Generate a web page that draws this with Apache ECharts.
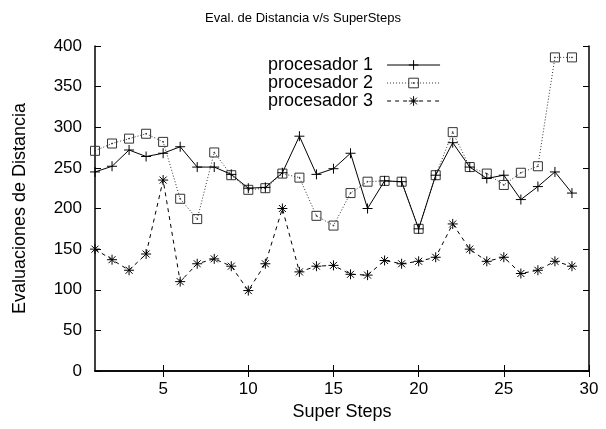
<!DOCTYPE html>
<html>
<head>
<meta charset="utf-8">
<script src="https://cdn.jsdelivr.net/npm/echarts@6/dist/echarts.min.js"></script>
<style>
  html, body { margin: 0; padding: 0; background: #fff; }
  #chart { width: 606px; height: 429px; }
</style>
</head>
<body>
<div id="chart"></div>
<script>
// datos
var steps = [1,2,3,4,5,6,7,8,9,10,11,12,13,14,15,16,17,18,19,20,21,22,23,24,25,26,27,28,29];
var proc1 = [245,252,272,264,268,276,251,251,242,225,226,244,289,242,249,268,200,234,233,175,241,281,251,237,241,211,227,245,219];
var proc2 = [271,280,286,292,282,212,187,269,241,223,225,243,238,191,179,219,233,234,233,175,241,294,251,243,229,244,252,386,386];
var proc3 = [150,137,124,144,235,110,132,138,129,99,132,200,122,129,130,119,118,136,132,135,140,181,150,135,140,120,124,135,129];
var xTicks = [5,10,15,20,25,30];

var plusPath = 'path://M0,5L10,5M5,0L5,10';
var starPath = 'path://M0,5L10,5M5,0L5,10M1.5,1.5L8.5,8.5M1.5,8.5L8.5,1.5';
var boxPath = 'path://M0,0L10,0L10,10L0,10Z M4.6,4.6L5.4,4.6L5.4,5.4L4.6,5.4Z';

function pairs(ys) {
  return steps.map(function (x, i) { return [x, ys[i]]; });
}

var font = 'Liberation Sans, Arial, sans-serif';
var chart = echarts.init(document.getElementById('chart'));

var option = {
  animation: false,
  backgroundColor: '#fff',
  title: {
    text: 'Eval. de Distancia v/s SuperSteps',
    left: 'center',
    top: 7,
    textStyle: { fontFamily: font, fontSize: 13, fontWeight: 'normal', color: '#000' }
  },
  legend: {
    orient: 'vertical',
    left: 263,
    top: 51,
    align: 'right',
    itemWidth: 53,
    itemHeight: 12,
    itemGap: 0,
    lineStyle: { width: 1 },
    itemStyle: { borderWidth: 1 },
    textStyle: { fontFamily: font, fontSize: 18, color: '#000', lineHeight: 18, padding: [0, 9, 0, 0] },
    data: ['procesador 1', 'procesador 2', 'procesador 3']
  },
  grid: { left: 95, right: 17, top: 46, bottom: 58 },
  xAxis: [{
    type: 'value',
    min: 1, max: 30,
    name: 'Super Steps',
    nameLocation: 'middle',
    nameGap: 30,
    nameTextStyle: { fontFamily: font, fontSize: 18, color: '#000' },
    axisLine: { show: true, lineStyle: { color: '#000', width: 1.5 } },
    axisTick: { show: true, inside: true, length: 6, customValues: xTicks, lineStyle: { color: '#000' } },
    axisLabel: { customValues: xTicks, fontFamily: font, fontSize: 17, color: '#000', margin: 10 },
    splitLine: { show: false }
  }, {
    type: 'value',
    position: 'top',
    min: 1, max: 30,
    axisLine: { show: true, lineStyle: { color: '#000', width: 1.5 } },
    axisTick: { show: true, inside: true, length: 6, customValues: xTicks, lineStyle: { color: '#000' } },
    axisLabel: { show: false },
    splitLine: { show: false }
  }],
  yAxis: [{
    type: 'value',
    min: 0, max: 400, interval: 50,
    name: 'Evaluaciones de Distancia',
    nameLocation: 'middle',
    nameGap: 66,
    nameTextStyle: { fontFamily: font, fontSize: 18, color: '#000' },
    axisLine: { show: true, lineStyle: { color: '#000', width: 1.5 } },
    axisTick: { show: true, inside: true, length: 6, lineStyle: { color: '#000' } },
    axisLabel: { fontFamily: font, fontSize: 17, color: '#000', margin: 13 },
    splitLine: { show: false }
  }, {
    type: 'value',
    position: 'right',
    min: 0, max: 400, interval: 50,
    axisLine: { show: true, lineStyle: { color: '#000', width: 1.5 } },
    axisTick: { show: true, inside: true, length: 6, lineStyle: { color: '#000' } },
    axisLabel: { show: false },
    splitLine: { show: false }
  }],
  series: [{
    name: 'procesador 1',
    type: 'line',
    data: pairs(proc1),
    symbol: plusPath,
    symbolSize: 10,
    itemStyle: { color: '#000', borderColor: '#000', borderWidth: 1 },
    lineStyle: { color: '#000', width: 1, type: 'solid' },
    z: 3
  }, {
    name: 'procesador 2',
    type: 'line',
    data: pairs(proc2),
    symbol: boxPath,
    symbolSize: 9,
    itemStyle: { color: 'transparent', borderColor: '#333', borderWidth: 1 },
    lineStyle: { color: '#333', width: 1, type: [1, 2] },
    z: 2
  }, {
    name: 'procesador 3',
    type: 'line',
    data: pairs(proc3),
    symbol: starPath,
    symbolSize: 10,
    itemStyle: { color: '#000', borderColor: '#000', borderWidth: 1 },
    lineStyle: { color: '#000', width: 1, type: [4, 4] },
    z: 2
  }]
};

chart.setOption(option);
</script>
</body>
</html>
